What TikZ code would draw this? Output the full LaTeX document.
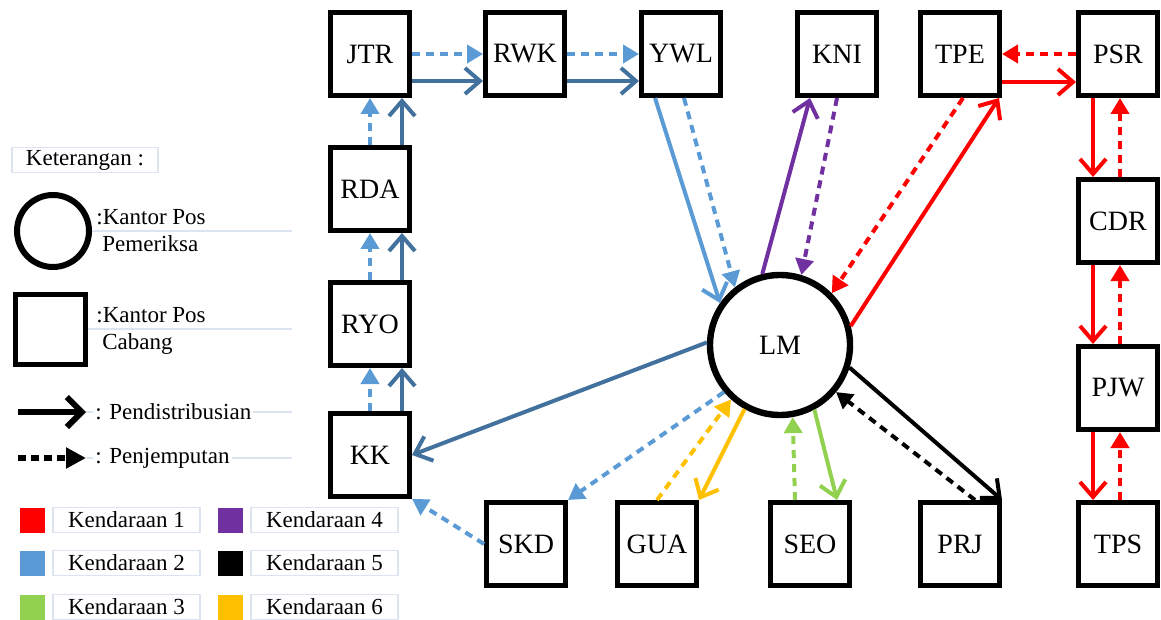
\documentclass[tikz,border=0pt]{standalone}
\usepackage{fontspec}
\setmainfont{Liberation Serif}
\usepackage{tikz}
\usetikzlibrary{arrows.meta,calc}
\usepackage{xcolor}
\definecolor{kpred}{RGB}{255,0,0}
\definecolor{kpblue}{RGB}{91,155,213}
\definecolor{kpdarkblue}{RGB}{65,113,156}
\definecolor{kpgreen}{RGB}{146,208,80}
\definecolor{kppurple}{RGB}{112,48,160}
\definecolor{kpyellow}{RGB}{255,192,0}
\definecolor{kpline}{RGB}{220,228,240}
\tikzstyle{kantor} = [draw, line width=2.5pt, minimum width=39.5pt, minimum height=41.5pt, inner sep=0pt, font=\fontsize{14}{16}\selectfont]
\tikzstyle{pemeriksa} = [circle, draw, line width=3.2pt, minimum size=70pt, inner sep=0pt, font=\fontsize{14}{16}\selectfont]
\tikzstyle{antar} = [line width=2pt, -{Straight Barb[length=7.5pt,width=13pt]}]
\tikzstyle{jemput} = [line width=2pt, dash pattern=on 4pt off 3pt, -{Triangle[length=8pt,width=9pt]}]
\tikzstyle{legbox} = [draw=kpline, line width=0.6pt, inner sep=0pt, minimum width=73.5pt, minimum height=12.5pt, font=\fontsize{11.5}{13}\selectfont]
\tikzstyle{legtext} = [inner sep=1pt, font=\fontsize{11.5}{13.5}\selectfont]

\begin{document}
\begin{tikzpicture}[x=0.5pt, y=-0.5pt]
\useasboundingbox (0,0) rectangle (1161,620);

% Central LM
\node[pemeriksa] (lm) at (780,345) {LM};

% Kantor cabang, top row
\node[kantor] (jtr) at (370,54) {JTR};
\node[kantor] (rwk) at (525,54) {RWK};
\node[kantor] (ywl) at (681,54) {YWL};
\node[kantor] (kni) at (837,54) {KNI};
\node[kantor] (tpe) at (960,54) {TPE};
\node[kantor] (psr) at (1118,54) {PSR};

% left column
\node[kantor] (rda) at (370,189) {RDA};
\node[kantor] (ryo) at (370,324) {RYO};
\node[kantor] (kk) at (370,455) {KK};

% right column
\node[kantor] (cdr) at (1118,221) {CDR};
\node[kantor] (pjw) at (1118,388) {PJW};

% bottom row
\node[kantor] (skd) at (526,544) {SKD};
\node[kantor] (gua) at (657,544) {GUA};
\node[kantor] (seo) at (810,544) {SEO};
\node[kantor] (prj) at (960,544) {PRJ};
\node[kantor] (tps) at (1118,544) {TPS};

% Kendaraan 2
\draw[jemput, kpblue] (jtr.east) -- (rwk.west);
\draw[antar, kpdarkblue] ($(jtr.east)+(0,27)$) -- ($(rwk.west)+(0,27)$);
\draw[jemput, kpblue] (rwk.east) -- (ywl.west);
\draw[antar, kpdarkblue] ($(rwk.east)+(0,27)$) -- ($(ywl.west)+(0,27)$);
\draw[jemput, kpblue] (kk.north) -- (ryo.south);
\draw[antar, kpdarkblue] ($(kk.north)+(32,0)$) -- ($(ryo.south)+(32,0)$);
\draw[jemput, kpblue] (ryo.north) -- (rda.south);
\draw[antar, kpdarkblue] ($(ryo.north)+(32,0)$) -- ($(rda.south)+(32,0)$);
\draw[jemput, kpblue] (rda.north) -- (jtr.south);
\draw[antar, kpdarkblue] ($(rda.north)+(32,0)$) -- ($(jtr.south)+(32,0)$);
\draw[antar, kpblue] ($(ywl.south)+(-26,0)$) -- (lm.145);
\draw[jemput, kpblue] ($(ywl.south)+(3,0)$) -- (lm.128);
\draw[antar, kpdarkblue] (lm.178) -- (kk.east);
\draw[jemput, kpblue] (lm.220) -- (skd.north east);
\draw[jemput, kpblue] (skd.west) -- (kk.south east);

% Kendaraan 1
\draw[antar, kpred] ($(tpe.east)+(0,28)$) -- ($(psr.west)+(0,28)$);
\draw[jemput, kpred] (psr.west) -- (tpe.east);
\draw[antar, kpred] ($(psr.south)+(-25,0)$) -- ($(cdr.north)+(-25,0)$);
\draw[jemput, kpred] ($(cdr.north)+(2,0)$) -- ($(psr.south)+(2,0)$);
\draw[antar, kpred] ($(cdr.south)+(-25,0)$) -- ($(pjw.north)+(-25,0)$);
\draw[jemput, kpred] ($(pjw.north)+(2,0)$) -- ($(cdr.south)+(2,0)$);
\draw[antar, kpred] ($(pjw.south)+(-25,0)$) -- ($(tps.north)+(-25,0)$);
\draw[jemput, kpred] ($(tps.north)+(2,0)$) -- ($(pjw.south)+(2,0)$);
\draw[antar, kpred] (lm.15) -- ($(tpe.south east)+(-3,0)$);
\draw[jemput, kpred] ($(tpe.south)+(3,0)$) -- (lm.45);

% Kendaraan 4
\draw[antar, kppurple] (lm.104) -- ($(kni.south)+(-27,0)$);
\draw[jemput, kppurple] (kni.south) -- (lm.73);

% Kendaraan 3
\draw[antar, kpgreen] (lm.298) -- ($(seo.north)+(27,0)$);
\draw[jemput, kpgreen] ($(seo.north)+(-15,0)$) -- (lm.280);

% Kendaraan 6
\draw[antar, kpyellow] (lm.241) -- (gua.north east);
\draw[jemput, kpyellow] (gua.north) -- (lm.228);

% Kendaraan 5
\draw[antar, black] (lm.342) -- (prj.north east);
\draw[jemput, black] ($(prj.north)+(15,0)$) -- (lm.320);

% Keterangan
\node[legbox, minimum width=73pt] (ket) at (85,160) {Keterangan :};

\node[circle, draw, line width=3pt, minimum size=36pt, inner sep=0pt] (legpos) at (53,231) {};
\coordinate (garis1) at (292,231);
\draw[kpline, line width=0.8pt] (legpos.east) -- (garis1);
\node[legtext, anchor=west, align=left] (legpostxt) at (94,231) {:Kantor Pos\\\hspace*{3pt}Pemeriksa};

\node[draw, line width=2.5pt, minimum size=35pt, inner sep=0pt] (legcabang) at (50,329) {};
\coordinate (garis2) at (292,329);
\draw[kpline, line width=0.8pt] (legcabang.east) -- (garis2);
\node[legtext, anchor=west, align=left] (legcabangtxt) at (94,331) {:Kantor Pos\\\hspace*{3pt}Cabang};

\coordinate (ak1) at (18,412);
\coordinate (ak2) at (86,412);
\coordinate (garis3) at (292,412);
\draw[kpline, line width=0.8pt] (ak2) -- (garis3);
\draw[line width=3pt, -{Straight Barb[length=7.5pt,width=15pt]}] (ak1) -- (ak2);
\node[legtext, anchor=west, fill=white] (legantar) at (93,412) {: Pendistribusian};

\coordinate (aj1) at (18,458);
\coordinate (aj2) at (86,458);
\coordinate (garis4) at (292,458);
\draw[kpline, line width=0.8pt] (aj2) -- (garis4);
\draw[line width=3pt, dash pattern=on 4pt off 2.5pt, -{Triangle[length=10pt,width=10pt]}] (aj1) -- (aj2);
\node[legtext, anchor=west, fill=white] (legjemput) at (93,458) {: Penjemputan};

% Kendaraan legend
\node[fill=kpred, minimum size=12.5pt, inner sep=0pt] (k1) at (32.5,520) {};
\node[legbox] (k1txt) at (126.5,520) {Kendaraan 1};
\node[fill=kpblue, minimum size=12.5pt, inner sep=0pt] (k2) at (32.5,563) {};
\node[legbox] (k2txt) at (126.5,563) {Kendaraan 2};
\node[fill=kpgreen, minimum size=12.5pt, inner sep=0pt] (k3) at (32.5,607) {};
\node[legbox] (k3txt) at (126.5,607) {Kendaraan 3};
\node[fill=kppurple, minimum size=12.5pt, inner sep=0pt] (k4) at (230.5,520) {};
\node[legbox] (k4txt) at (324.5,520) {Kendaraan 4};
\node[fill=black, minimum size=12.5pt, inner sep=0pt] (k5) at (230.5,563) {};
\node[legbox] (k5txt) at (324.5,563) {Kendaraan 5};
\node[fill=kpyellow, minimum size=12.5pt, inner sep=0pt] (k6) at (230.5,607) {};
\node[legbox] (k6txt) at (324.5,607) {Kendaraan 6};
\end{tikzpicture}
\end{document}
